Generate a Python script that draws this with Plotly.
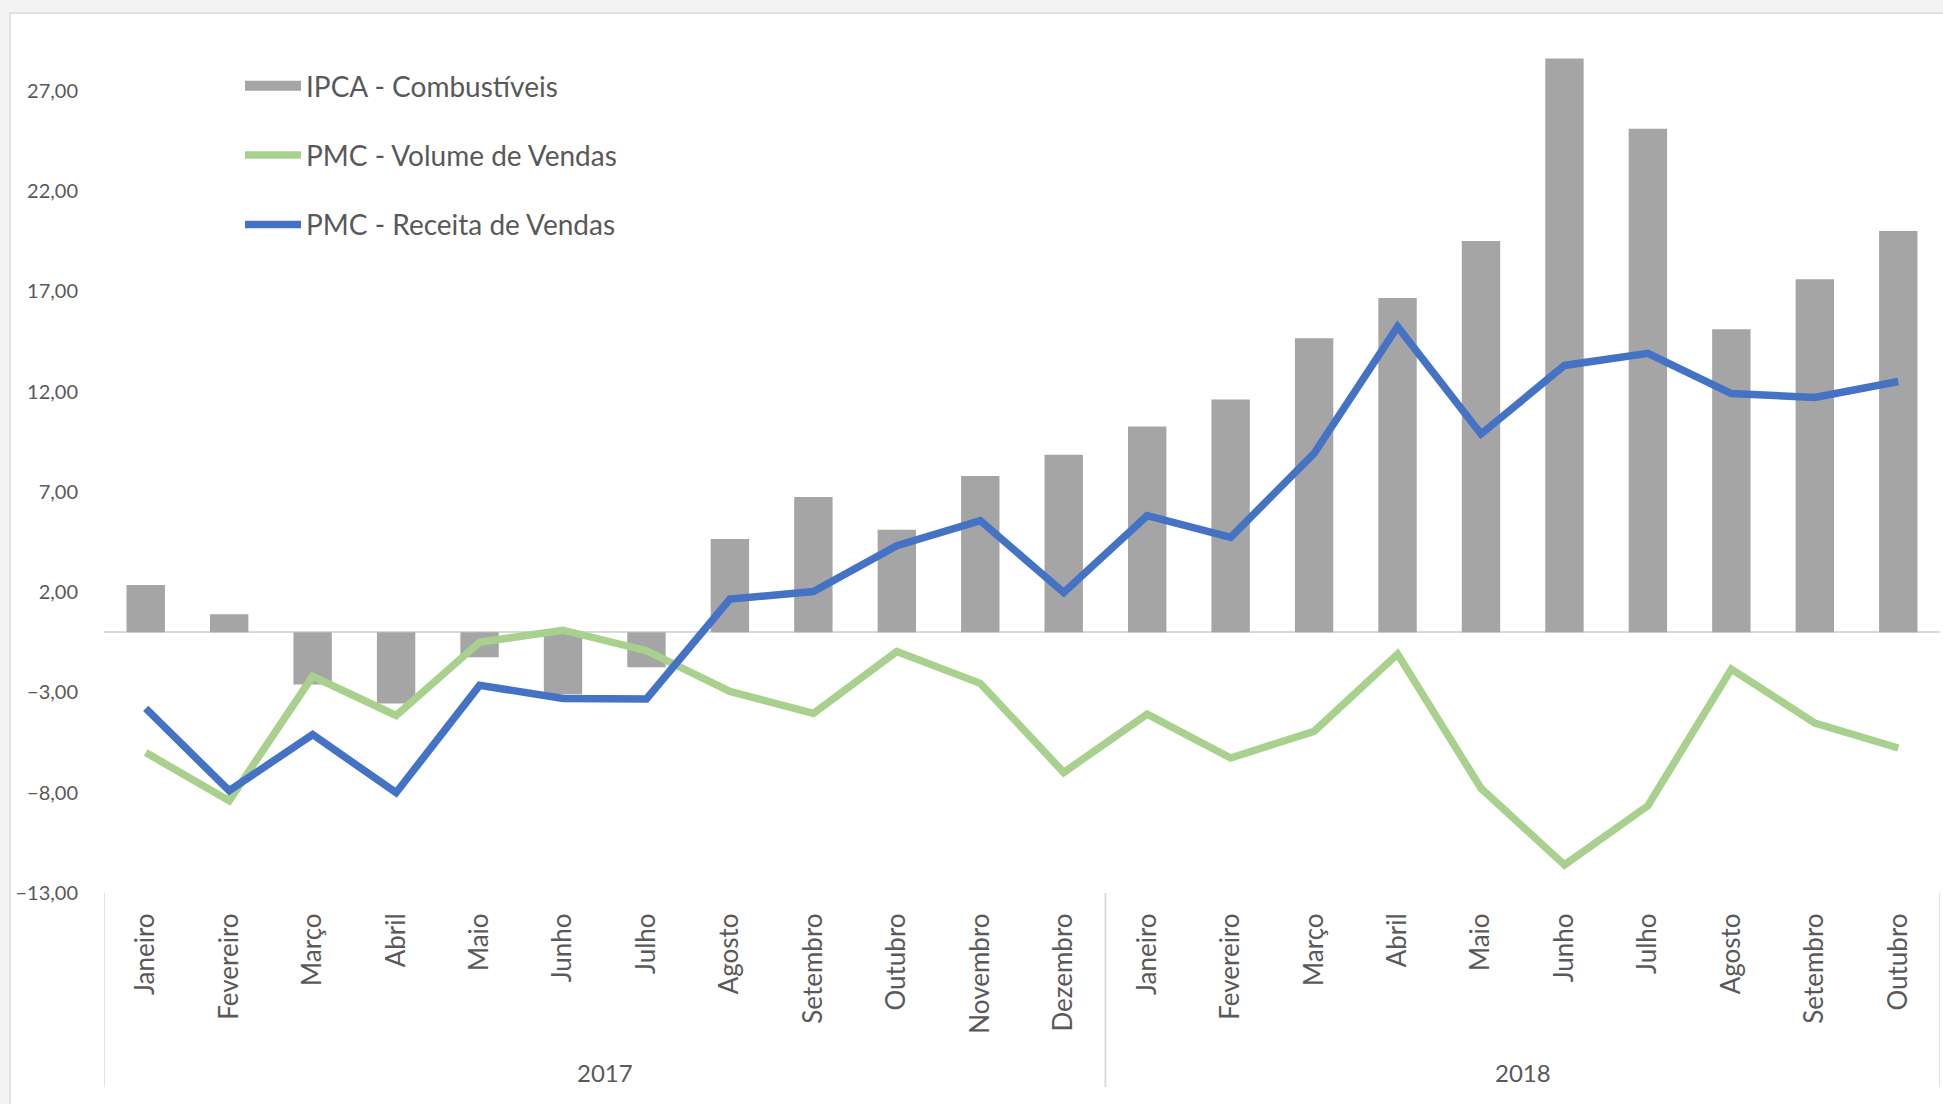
import plotly.graph_objects as go

months = ["Janeiro", "Fevereiro", "Março", "Abril", "Maio", "Junho", "Julho", "Agosto",
          "Setembro", "Outubro", "Novembro", "Dezembro",
          "Janeiro", "Fevereiro", "Março", "Abril", "Maio", "Junho", "Julho", "Agosto",
          "Setembro", "Outubro"]
years = ["2017"] * 12 + ["2018"] * 10

ipca = [2.35, 0.9, -2.6, -3.55, -1.25, -3.1, -1.75, 4.65, 6.74, 5.11, 7.79, 8.85,
        10.26, 11.6, 14.65, 16.66, 19.5, 28.6, 25.1, 15.1, 17.6, 20.0]
volume = [-6.0, -8.4, -2.2, -4.15, -0.5, 0.1, -0.92, -2.95, -4.05, -0.96, -2.55, -6.99,
          -4.08, -6.27, -4.94, -1.09, -7.78, -11.6, -8.65, -1.84, -4.53, -5.77]
receita = [-3.8, -7.9, -5.1, -8.0, -2.65, -3.3, -3.33, 1.65, 2.03, 4.31, 5.56, 1.98,
           5.81, 4.73, 8.91, 15.23, 9.88, 13.3, 13.9, 11.9, 11.7, 12.5]
ytick_vals = [-13, -8, -3, 2, 7, 12, 17, 22, 27]

x = list(range(len(months)))
FONT = "Lato"
TXT = "#595959"
W, H = 1943, 1104
ML, MR, MT, MB = 104, 3, 20, 211
plot_h = H - MT - MB
plot_w = W - ML - MR

def py(px_y):
    return (H - MB - px_y) / plot_h

def px_(px_x):
    return (px_x - ML) / plot_w

fig = go.Figure()
fig.add_trace(go.Bar(x=x, y=ipca, name="IPCA - Combustíveis", marker_color="#a5a5a5",
                     marker_line_width=0, legendgroup="a", showlegend=False))
# legend-only entry giving the wide grey swatch used by the original legend
fig.add_trace(go.Scatter(x=[None], y=[None], name="IPCA - Combustíveis", mode="lines",
                         line=dict(color="#a5a5a5", width=18), legendgroup="a",
                         hoverinfo="skip"))
fig.add_trace(go.Scatter(x=x, y=volume, name="PMC - Volume de Vendas", mode="lines",
                         line=dict(color="#a9d18e", width=7.5), legendgroup="b"))
fig.add_trace(go.Scatter(x=x, y=receita, name="PMC - Receita de Vendas", mode="lines",
                         line=dict(color="#4472c4", width=7.5), legendgroup="c"))

# group labels and dividers
groups = []
for i, yname in enumerate(years):
    if not groups or groups[-1][0] != yname:
        groups.append([yname, i, i])
    else:
        groups[-1][2] = i

shapes = [
    dict(type="rect", xref="paper", yref="paper", x0=px_(10), x1=px_(W + 20),
         y0=py(H + 20), y1=py(13), line=dict(color="#d9d9d9", width=1.5),
         fillcolor="white", layer="below"),
]
annotations = []
for name, a, b in groups:
    annotations.append(dict(x=(a + b) / 2, xref="x", y=py(1072), yref="paper",
                            text=name, showarrow=False,
                            font=dict(family=FONT, size=24, color=TXT),
                            xanchor="center", yanchor="middle"))
    for edge in (a - 0.5, b + 0.5):
        shapes.append(dict(type="line", xref="x", yref="paper", x0=edge, x1=edge,
                           y0=py(1087), y1=0, line=dict(color="#d9d9d9", width=1.5)))

fig.update_layout(
    width=W, height=H,
    margin=dict(l=ML, r=MR, t=MT, b=MB),
    paper_bgcolor="#f4f4f4",
    plot_bgcolor="rgba(0,0,0,0)",
    separators=",.",
    barmode="relative",
    bargap=0.54,
    showlegend=True,
    legend=dict(x=px_(240), y=py(61), xanchor="left", yanchor="top",
                bgcolor="rgba(0,0,0,0)", font=dict(family=FONT, size=28, color=TXT),
                itemwidth=56, tracegroupgap=30, traceorder="grouped"),
    xaxis=dict(range=[-0.5, len(x) - 0.5], tickvals=x, ticktext=months, tickangle=-90,
               tickfont=dict(family=FONT, size=26, color=TXT), showgrid=False,
               zeroline=False, showline=False, ticks="outside", ticklen=9,
               tickcolor="rgba(0,0,0,0)"),
    yaxis=dict(range=[-13, (H - MB - MT) / 20.06 - 13], tickvals=ytick_vals,
               tickformat=".2f", tickfont=dict(family=FONT, size=20, color=TXT),
               showgrid=False, zeroline=True, zerolinecolor="#d9d9d9", zerolinewidth=2,
               showline=False, ticks="outside", ticklen=21, tickcolor="rgba(0,0,0,0)"),
    shapes=shapes,
    annotations=annotations,
)

fig.write_html("out.html", config={"displayModeBar": False},
               post_script="document.body.style.margin='0';")
